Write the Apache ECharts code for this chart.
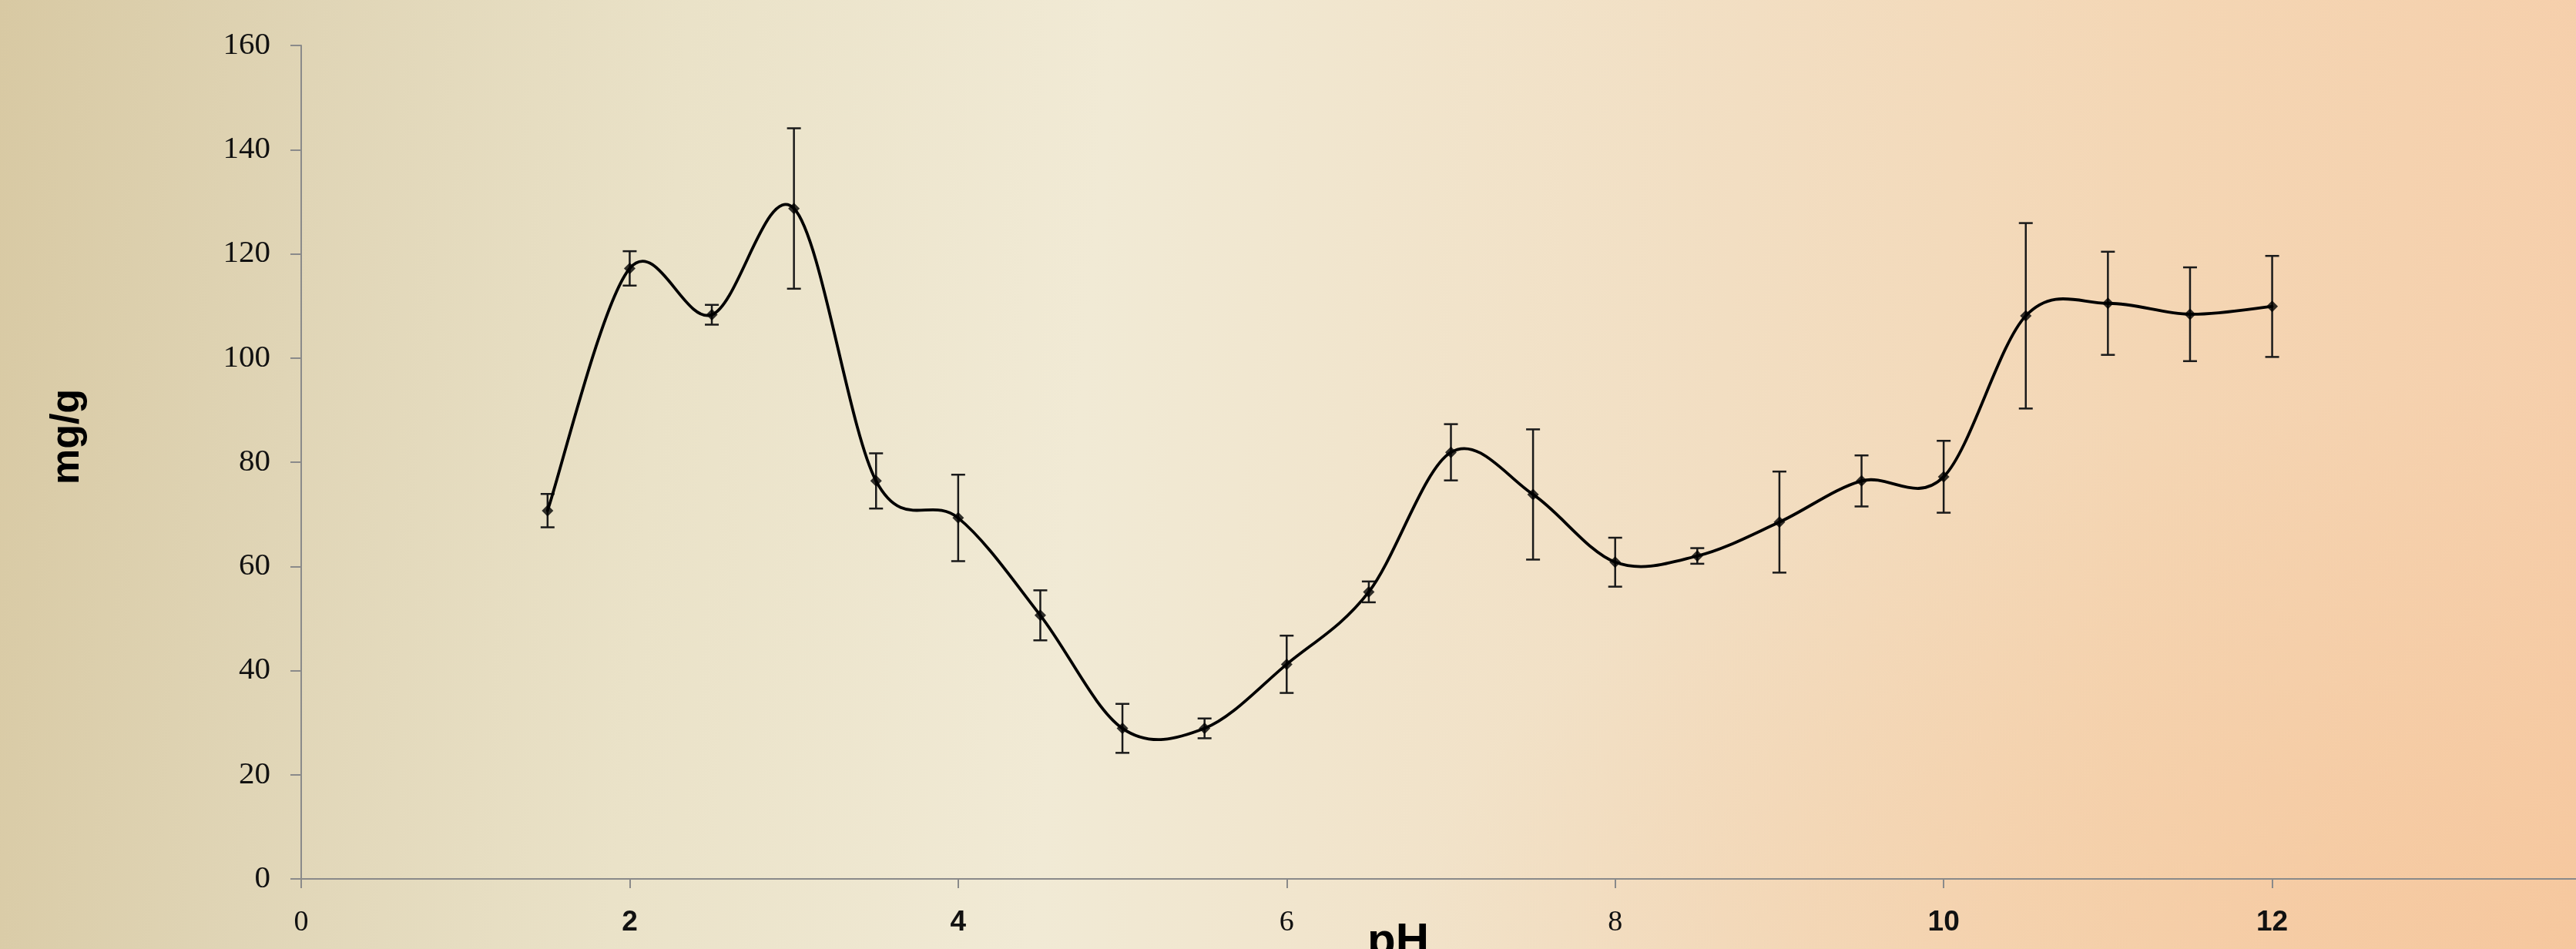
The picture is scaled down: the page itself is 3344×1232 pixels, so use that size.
<!DOCTYPE html>
<html>
<head>
<meta charset="utf-8">
<script src="https://cdn.jsdelivr.net/npm/echarts@6/dist/echarts.min.js"></script>
<style>
  html, body { margin: 0; padding: 0; }
  #chart {
    width: 3344px; height: 1232px;
    background:
      radial-gradient(ellipse 45% 60% at 100% 100%, rgba(246,194,148,0.55), rgba(246,194,148,0) 100%),
      linear-gradient(95deg, #d8c9a3 0%, #e0d5b6 12%, #eae2c8 26%, #f1ead5 42%, #f1e5cd 52%, #f2dec2 66%, #f4d6b4 82%, #f6ceaa 100%);
  }
</style>
</head>
<body>
<div id="chart"></div>
<script>
// pH values (x)
const pH = [1.5, 2, 2.5, 3, 3.5, 4, 4.5, 5, 5.5, 6, 6.5, 7, 7.5, 8, 8.5, 9, 9.5, 10, 10.5, 11, 11.5, 12];
// adsorption capacity, mg/g
const uptake = [70.7, 117.2, 108.3, 128.7, 76.4, 69.3, 50.6, 28.9, 28.9, 41.2, 55.1, 81.9, 73.8, 60.8, 62.0, 68.5, 76.4, 77.2, 108.1, 110.5, 108.4, 109.9];
// error (± half-length of error bars)
const errors = [3.2, 3.3, 1.9, 15.4, 5.3, 8.3, 4.8, 4.7, 1.9, 5.5, 2.0, 5.4, 12.5, 4.7, 1.5, 9.7, 4.9, 6.9, 17.8, 9.9, 9.0, 9.7];
// x tick labels drawn in bold sans in the reference (others serif)
const sansTickLabels = [2, 4, 10, 12];
const xAxisTitle = 'pH';
const yAxisTitle = 'mg/g';

const chart = echarts.init(document.getElementById('chart'), null, { renderer: 'canvas' });

const pointData = pH.map((x, i) => [x, uptake[i]]);
const errData = pH.map((x, i) => [x, uptake[i], errors[i]]);
const n = pH.length;

const axisGrey = '#8a8a8a';

// Excel-style smoothed line: Catmull-Rom bezier through the data points,
// positioned with the chart's own coordinate system (api.coord).
function renderSmoothSegment(params, api) {
  const i = params.dataIndex;
  if (i >= n - 1) return null;
  const c = j => api.coord([pH[Math.max(0, Math.min(n - 1, j))], uptake[Math.max(0, Math.min(n - 1, j))]]);
  const p0 = c(i - 1), p1 = c(i), p2 = c(i + 1), p3 = c(i + 2);
  const k = 1 / 6;
  return {
    type: 'bezierCurve',
    shape: {
      x1: p1[0], y1: p1[1], x2: p2[0], y2: p2[1],
      cpx1: p1[0] + (p2[0] - p0[0]) * k, cpy1: p1[1] + (p2[1] - p0[1]) * k,
      cpx2: p2[0] - (p3[0] - p1[0]) * k, cpy2: p2[1] - (p3[1] - p1[1]) * k
    },
    style: { stroke: '#000', lineWidth: 3.8, fill: null, lineCap: 'round' }
  };
}

function renderErrorBar(params, api) {
  const x = api.value(0), y = api.value(1), e = api.value(2);
  const top = api.coord([x, y + e]);
  const bot = api.coord([x, y - e]);
  const hw = 9;
  const style = { stroke: '#1a1a1a', lineWidth: 2.5 };
  return {
    type: 'group',
    children: [
      { type: 'line', shape: { x1: top[0], y1: top[1], x2: bot[0], y2: bot[1] }, style },
      { type: 'line', shape: { x1: top[0] - hw, y1: top[1], x2: top[0] + hw, y2: top[1] }, style },
      { type: 'line', shape: { x1: bot[0] - hw, y1: bot[1], x2: bot[0] + hw, y2: bot[1] }, style }
    ]
  };
}

chart.setOption({
  backgroundColor: 'transparent',
  animation: false,
  grid: { left: 391, width: 2985, top: 59, bottom: 91, containLabel: false, outerBoundsMode: 'none' },
  xAxis: {
    type: 'value', min: 0, max: 14, interval: 2,
    axisLine: { show: true, onZero: false, lineStyle: { color: axisGrey, width: 2 } },
    axisTick: { show: true, length: 12, lineStyle: { color: axisGrey, width: 2 } },
    splitLine: { show: false },
    axisLabel: {
      margin: 38,
      formatter: v => sansTickLabels.includes(v) ? '{s|' + v + '}' : '{r|' + v + '}',
      rich: {
        s: { fontFamily: 'Liberation Sans', fontWeight: 'bold', fontSize: 37, color: '#111' },
        r: { fontFamily: 'Liberation Serif', fontSize: 38, color: '#111' }
      }
    }
  },
  yAxis: {
    type: 'value', min: 0, max: 160, interval: 20,
    axisLine: { show: true, lineStyle: { color: axisGrey, width: 2 } },
    axisTick: { show: true, length: 14, lineStyle: { color: axisGrey, width: 2 } },
    splitLine: { show: false },
    axisLabel: { margin: 40, fontFamily: 'Liberation Serif', fontSize: 41, color: '#111' }
  },
  graphic: [
    {
      type: 'text', x: 88, y: 567, rotation: Math.PI / 2,
      style: { text: yAxisTitle, x: 0, y: 0, align: 'center', verticalAlign: 'middle',
               fontFamily: 'Liberation Sans', fontWeight: 'bold', fontSize: 52, fill: '#000' }
    },
    {
      type: 'text', x: 1815, y: 1193,
      style: { text: xAxisTitle, x: 0, y: 0, align: 'center', verticalAlign: 'top',
               fontFamily: 'Liberation Sans', fontWeight: 'bold', fontSize: 60, fill: '#000' }
    }
  ],
  series: [
    {
      type: 'custom',
      name: 'error',
      data: errData,
      encode: { x: 0, y: 1 },
      z: 3,
      renderItem: renderErrorBar
    },
    {
      type: 'custom',
      name: 'curve',
      data: pointData,
      encode: { x: 0, y: 1 },
      z: 4,
      renderItem: renderSmoothSegment
    },
    {
      type: 'scatter',
      name: 'points',
      data: pointData,
      z: 5,
      symbol: 'diamond',
      symbolSize: 15,
      itemStyle: { color: '#000' }
    }
  ]
});
</script>
</body>
</html>
